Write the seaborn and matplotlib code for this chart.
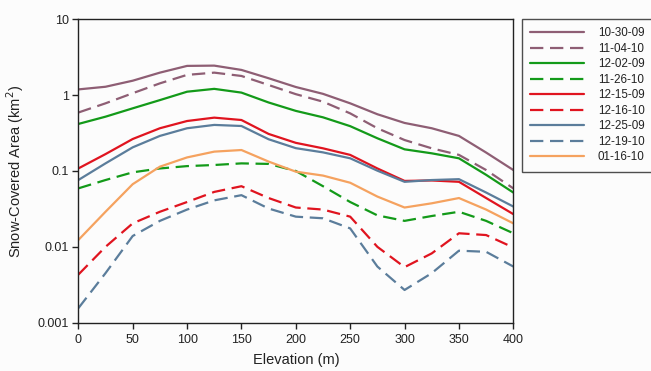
import matplotlib
matplotlib.use("Agg")
import matplotlib.pyplot as plt
import seaborn as sns
import numpy as np
from matplotlib.ticker import FixedLocator, FixedFormatter, NullLocator

# ---- data ----
elevation = [0, 25, 50, 75, 100, 125, 150, 175, 200, 225, 250, 275, 300, 325, 350, 375, 400]

labels = ["10-30-09", "11-04-10", "12-02-09", "11-26-10", "12-15-09",
          "12-16-10", "12-25-09", "12-19-10", "01-16-10"]

s_103009 = [1.19, 1.29, 1.55, 1.98, 2.43, 2.45, 2.15, 1.67, 1.28, 1.04, 0.78, 0.56, 0.43, 0.366, 0.29, 0.175, 0.103]
s_110410 = [0.59, 0.78, 1.06, 1.43, 1.85, 1.98, 1.79, 1.36, 1.03, 0.82, 0.575, 0.366, 0.256, 0.199, 0.163, 0.103, 0.059]
s_120209 = [0.417, 0.52, 0.67, 0.86, 1.11, 1.21, 1.08, 0.80, 0.62, 0.51, 0.39, 0.27, 0.193, 0.171, 0.147, 0.089, 0.052]
s_112610 = [0.059, 0.076, 0.096, 0.108, 0.116, 0.12, 0.126, 0.124, 0.100, 0.063, 0.039, 0.026, 0.022, 0.0255, 0.029, 0.022, 0.0151]
s_121509 = [0.108, 0.167, 0.264, 0.366, 0.456, 0.505, 0.47, 0.308, 0.235, 0.199, 0.163, 0.108, 0.074, 0.075, 0.072, 0.044, 0.027]
s_121610 = [0.0043, 0.010, 0.0204, 0.029, 0.039, 0.053, 0.063, 0.044, 0.033, 0.031, 0.025, 0.010, 0.0054, 0.0082, 0.0151, 0.0143, 0.0098]
s_122509 = [0.076, 0.126, 0.205, 0.29, 0.366, 0.405, 0.392, 0.262, 0.20, 0.176, 0.147, 0.101, 0.072, 0.076, 0.078, 0.052, 0.034]
s_121910 = [0.00155, 0.0045, 0.0139, 0.022, 0.031, 0.041, 0.048, 0.032, 0.025, 0.0238, 0.0175, 0.0055, 0.0027, 0.0045, 0.0089, 0.0086, 0.0055]
s_011610 = [0.0123, 0.029, 0.067, 0.114, 0.151, 0.18, 0.189, 0.133, 0.098, 0.087, 0.070, 0.046, 0.033, 0.0375, 0.044, 0.031, 0.0204]

series = [s_103009, s_110410, s_120209, s_112610, s_121509,
          s_121610, s_122509, s_121910, s_011610]

x_ticks = [0, 50, 100, 150, 200, 250, 300, 350, 400]
y_ticks = [0.001, 0.01, 0.1, 1, 10]
y_tick_labels = ["0.001", "0.01", "0.1", "1", "10"]

# ---- styles ----
purple = "#8e5e74"
green = "#139a19"
red = "#e0141f"
blue = "#5b7d9b"
orange = "#f5a25f"
colors = [purple, purple, green, green, red, red, blue, blue, orange]
dashed = [False, True, False, True, False, True, False, True, False]

sns.set_style("white")
plt.rcParams["font.family"] = ["Liberation Sans", "DejaVu Sans"]

fig = plt.figure(figsize=(6.51, 3.71), dpi=100)
fig.patch.set_facecolor("#fcfcfc")
ax = fig.add_axes([0.1203, 0.1302, 0.7885 - 0.1203, 0.948 - 0.1302])
ax.set_facecolor("#fcfcfc")

for vals, lab, c, d in zip(series, labels, colors, dashed):
    sns.lineplot(x=elevation, y=vals, ax=ax, color=c, label=lab, lw=1.6)
    line = ax.lines[-1]
    line.set_solid_joinstyle("round")
    line.set_dash_joinstyle("round")
    if d:
        line.set_dashes((6.0, 3.0))

ax.set_yscale("log")
ax.set_xlim(0, 400)
ax.set_ylim(0.001, 10)
ax.xaxis.set_major_locator(FixedLocator(x_ticks))
ax.yaxis.set_major_locator(FixedLocator(y_ticks))
ax.yaxis.set_major_formatter(FixedFormatter(y_tick_labels))
ax.yaxis.set_minor_locator(NullLocator())
ax.tick_params(axis="both", which="major", direction="out", length=4, width=1,
               labelsize=9, colors="#222222", left=True, bottom=True, pad=3)
ax.tick_params(axis="x", pad=4)
for sp in ax.spines.values():
    sp.set_color("#222222")
    sp.set_linewidth(1.0)

ax.set_xlabel("Elevation (m)", fontsize=10.5, labelpad=5, color="#222222")
ax.set_ylabel("Snow-Covered Area (km$^2$)", fontsize=10.5, labelpad=8, color="#222222")

handles, labs = ax.get_legend_handles_labels()
ax.get_legend().remove()
leg = fig.legend(handles, labs, loc="upper left", bbox_to_anchor=(0.802, 0.948),
                 frameon=True, fancybox=False, fontsize=8.4, handlelength=4.6,
                 handletextpad=1.2, labelspacing=0.3, borderpad=0.7,
                 borderaxespad=0)
for t in leg.get_texts():
    t.set_color("#222222")
leg.get_frame().set_edgecolor("#222222")
leg.get_frame().set_linewidth(1.0)
leg.get_frame().set_facecolor("#fcfcfc")

fig.savefig("out.png", dpi=100, facecolor=fig.get_facecolor())
